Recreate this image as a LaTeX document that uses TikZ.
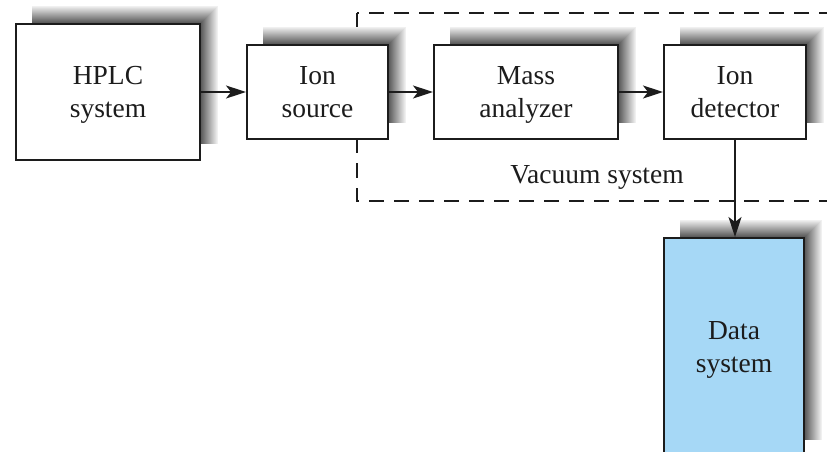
\documentclass[tikz,border=0pt]{standalone}
\usepackage{fontspec}
\setmainfont{Liberation Serif}
\usetikzlibrary{arrows.meta,calc}
\pgfdeclarelayer{back}
\pgfdeclarelayer{shade}
\pgfsetlayers{back,shade,main}
\definecolor{ink}{RGB}{28,28,28}
\definecolor{databg}{RGB}{166,216,246}
\tikzset{
  blk/.style={draw=ink, line width=2pt, fill=white, inner sep=0pt, align=center,
    text=ink, text depth=0pt, font=\fontsize{27.5}{33}\selectfont},
  flow/.style={draw=ink, line width=1.6pt, -{Stealth[length=20pt,width=13pt,inset=5pt]}},
  vacbox/.style={draw=ink, line width=1.6pt, dash pattern=on 15pt off 10pt},
  lbl/.style={text=ink, font=\fontsize{27.5}{33}\selectfont, inner sep=0pt}
}
\begin{document}
\begin{tikzpicture}[x=1pt, y=-1pt]
  \useasboundingbox (0,0) rectangle (827,451);
  \clip (0,0) rectangle (827,451);

  % functional blocks
  \node[blk, minimum width=184pt, minimum height=136pt] (hplc) at (108,92) {HPLC\\system};
  \node[blk, minimum width=141pt, minimum height=94pt] (ion) at (317.5,92) {Ion\\source};
  \node[blk, minimum width=184pt, minimum height=94pt] (mass) at (526,92) {Mass\\analyzer};
  \node[blk, minimum width=142pt, minimum height=94pt] (det) at (735,92) {Ion\\detector};
  \node[blk, fill=databg, minimum width=140pt, minimum height=218pt] (data) at (734,347) {Data\\system};

  % vacuum enclosure (dashed)
  \begin{pgfonlayer}{back}
    \coordinate (vtl) at (357,13);
    \coordinate (vbr) at (845,201);
    \draw[vacbox] (vtl) rectangle (vbr);
  \end{pgfonlayer}
  \node[lbl] (vac) at (597,177) {Vacuum system};

  % soft drop shadows: nested bands, darker towards the block
  \begin{pgfonlayer}{shade}
    \foreach \n in {hplc,ion,mass,det,data} {
      \foreach \i in {0,...,16} {
        \pgfmathsetmacro\dk{6+\i*3.6}
        \fill[black!\dk!white]
          ($(\n.north west)+(17,-17+\i)$) rectangle ($(\n.south east)+(17-\i,-17)$);
      }
    }
  \end{pgfonlayer}

  % signal flow
  \draw[flow] (hplc.east) -- (ion.west);
  \draw[flow] (ion.east) -- (mass.west);
  \draw[flow] (mass.east) -- (det.west);
  \draw[flow] (det.south) -- (det.south |- data.north);
\end{tikzpicture}
\end{document}
